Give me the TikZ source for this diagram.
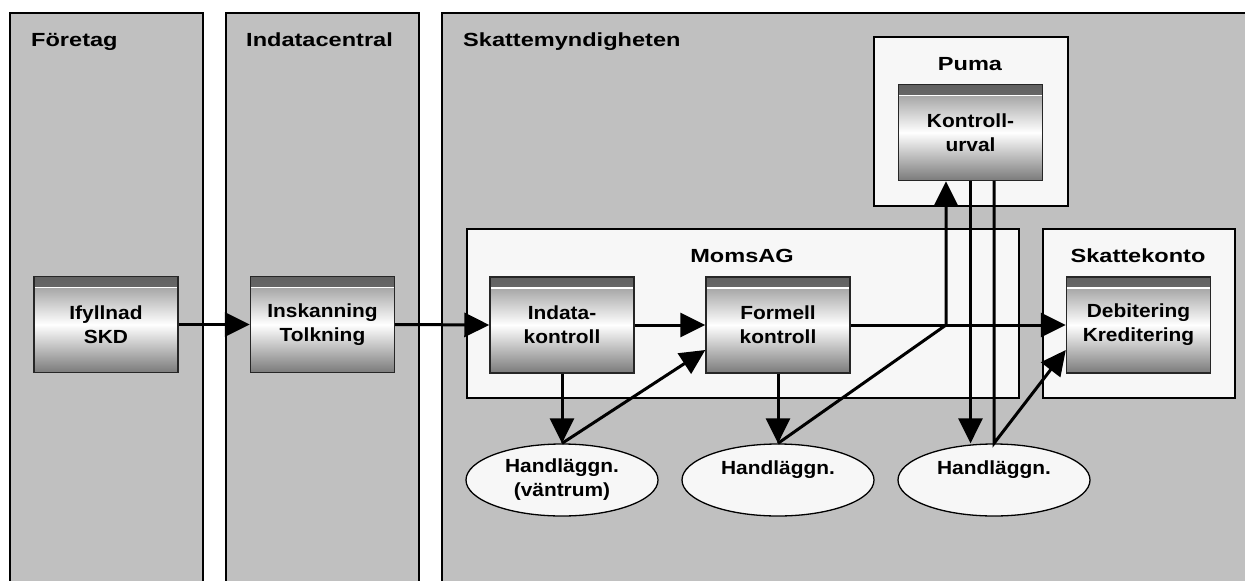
\documentclass[tikz,border=0pt]{standalone}
\usepackage{fontspec}
\setmainfont{Liberation Sans}
\newfontfamily\tfont{Liberation Sans}[FakeStretch=1.24]
\newfontfamily\bfont{Liberation Sans}[FakeStretch=1.1]
\usetikzlibrary{arrows.meta,shapes.geometric}
\definecolor{lanegray}{HTML}{C0C0C0}
\definecolor{contfill}{HTML}{F7F7F7}
\tikzset{
 lane/.style={draw, line width=1.6pt, fill=lanegray, anchor=north west, inner sep=0pt},
 cont/.style={draw, line width=1.6pt, fill=contfill, anchor=north west, inner sep=0pt},
 title/.style={font=\tfont\bfseries\fontsize{19}{24}\selectfont, inner sep=0pt},
 proc/.style={draw=black!85, line width=1.4pt, minimum width=144pt, minimum height=96pt,
   inner sep=0pt, align=center, font=\bfont\bfseries\fontsize{19}{24}\selectfont,
   top color=black!45, bottom color=black!52, middle color=white,
   path picture={
     \shade[top color=black!62, bottom color=black!40] (path picture bounding box.north west) rectangle ([yshift=-11pt]path picture bounding box.north east);
     \draw[white, line width=1.2pt] ([yshift=-11pt]path picture bounding box.north west) -- ([yshift=-11pt]path picture bounding box.north east);
   }},
 hand/.style={ellipse, draw, line width=1.3pt, fill=contfill, minimum width=192pt,
   minimum height=72pt, inner sep=0pt, align=center,
   font=\bfont\bfseries\fontsize{19}{24}\selectfont},
 flow/.style={line width=3pt, -{Triangle[length=25pt,width=24pt]}},
}
\begin{document}
\begin{tikzpicture}[x=1pt,y=-1pt]
\useasboundingbox (0,0) rectangle (1245,581);
\clip (0,0) rectangle (1245,581);
% lanes
\node[lane, minimum width=193pt, minimum height=600pt] (laneF) at (9,12) {};
\node[lane, minimum width=193pt, minimum height=600pt] (laneI) at (225,12) {};
\node[lane, minimum width=850pt, minimum height=600pt] (laneS) at (441,12) {};
\node[title, anchor=base west] (tF) at (31,46) {Företag};
\node[title, anchor=base west] (tI) at (246,46) {Indatacentral};
\node[title, anchor=base west] (tS) at (463,46) {Skattemyndigheten};
% containers
\node[cont, minimum width=552pt, minimum height=169pt] (moms) at (466,228) {};
\node[cont, minimum width=194pt, minimum height=169pt] (puma) at (873,36) {};
\node[cont, minimum width=192pt, minimum height=169pt] (skk) at (1042,228) {};
\node[title, anchor=base] (tM) at (742,262) {MomsAG};
\node[title, anchor=base] (tP) at (970,70) {Puma};
\node[title, anchor=base] (tK) at (1138,262) {Skattekonto};
% process boxes
\node[proc] (ifyll) at (106,324.5) {Ifyllnad\\SKD};
\node[proc] (insk) at (322.5,324.5) {Inskanning\\Tolkning};
\node[proc] (indata) at (562,325) {Indata-\\kontroll};
\node[proc] (formell) at (778,325) {Formell\\kontroll};
\node[proc] (kontroll) at (970.5,132.5) {Kontroll-\\urval};
\node[proc] (debit) at (1138.5,325) {Debitering\\Kreditering};
% ellipses
\node[hand] (e1) at (562,480) {Handläggn.\\(väntrum)};
\node[hand] (e2) at (778,480) {Handläggn.\\\mbox{}};
\node[hand] (e3) at (994,480) {Handläggn.\\\mbox{}};
% connectors
\draw[flow] (ifyll.east) -- (insk.west);
\draw[flow] (insk.east) -- (indata.west);
\draw[flow] (indata.east) -- (formell.west);
\draw[flow] (formell.east) -- (debit.west);
\draw[flow] (indata.south) -- (e1.north);
\draw[flow] (formell.south) -- (e2.north);
\draw[flow] (e1.north) -- ([yshift=-25pt]formell.west);
\coordinate (j) at (946,325);
\draw[flow] (e2.north) -- (j) -- (j |- kontroll.south);
\draw[flow] (kontroll.south) -- (kontroll.south |- e3.north);
\draw[flow] (e3.north |- kontroll.south) -- (e3.north) -- ([yshift=-25pt]debit.west);
\end{tikzpicture}
\end{document}
